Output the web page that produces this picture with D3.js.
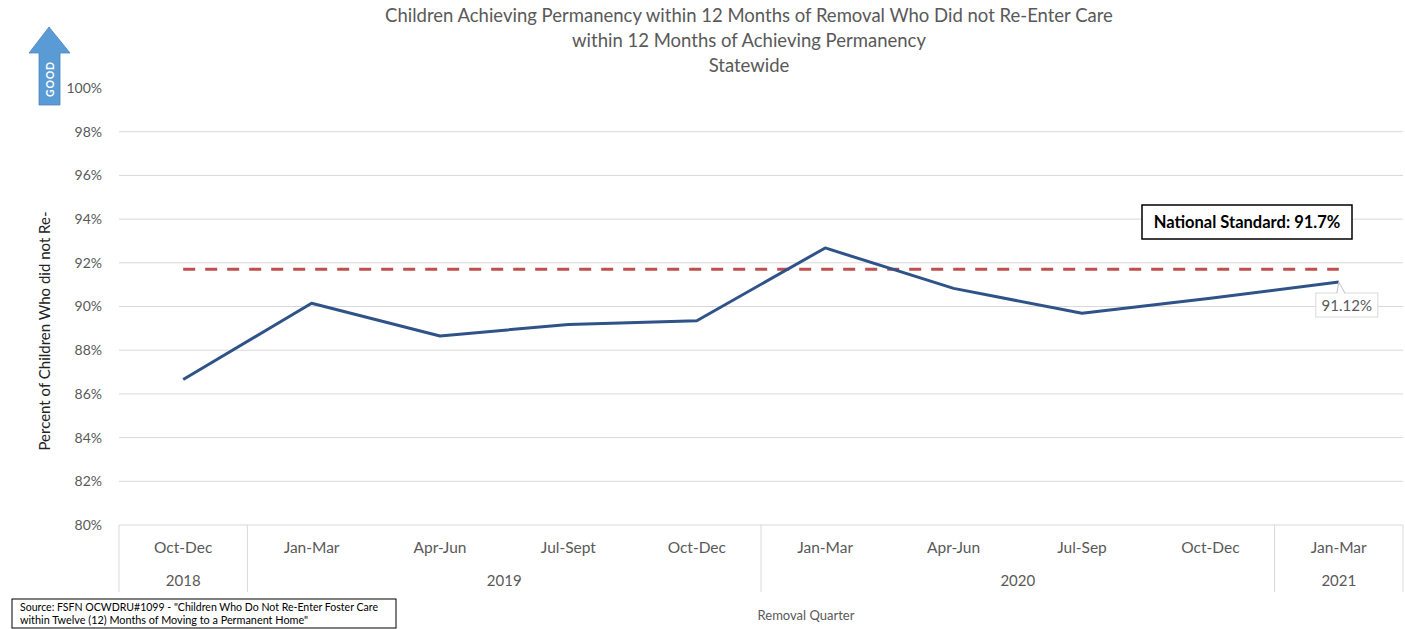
<!DOCTYPE html>
<html><head><meta charset="utf-8">
<script src="https://cdn.jsdelivr.net/npm/d3@7"></script>
<style>body{margin:0;background:#fff;} svg{display:block;font-family:Lato,"Open Sans",sans-serif;}</style>
</head><body>
<svg id="c" width="1405" height="629"></svg>
<script>
const quarters = ["Oct-Dec","Jan-Mar","Apr-Jun","Jul-Sept","Oct-Dec","Jan-Mar","Apr-Jun","Jul-Sep","Oct-Dec","Jan-Mar"];
const years = ["2018","2019","2019","2019","2019","2020","2020","2020","2020","2021"];
const values = [86.66, 90.15, 88.65, 89.18, 89.35, 92.68, 90.83, 89.69, 90.38, 91.12];
const nationalStandard = [91.7, 91.7, 91.7, 91.7, 91.7, 91.7, 91.7, 91.7, 91.7, 91.7];
const yTicks = [80, 82, 84, 86, 88, 90, 92, 94, 96, 98, 100];
const titleLines = ["Children Achieving Permanency within 12 Months of Removal Who Did not Re-Enter Care","within 12 Months of Achieving Permanency","Statewide"];

const svg = d3.select("#c");
const L = 119, R = 1403, T = 88, B = 525;
const idx = d3.range(quarters.length);
const x = d3.scaleBand().domain(idx).range([L, R]);
const y = d3.scaleLinear().domain([80, 100]).range([B, T]);
const cx = i => x(i) + x.bandwidth() / 2;
const grey = "#595959";

// title
svg.append("g").selectAll("text").data(titleLines).join("text")
  .attr("x", 749).attr("y", (d, i) => 22 + i * 25)
  .attr("text-anchor", "middle").attr("font-size", 18.5).attr("fill", grey).text(d => d);

// gridlines
svg.append("g").selectAll("line").data(yTicks.filter(t => t > 80 && t < 100)).join("line")
  .attr("x1", L).attr("x2", R).attr("y1", d => y(d)).attr("y2", d => y(d))
  .attr("stroke", "#d9d9d9").attr("stroke-width", 1);

// y axis labels
const yAxis = d3.axisLeft(y).tickValues(yTicks).tickFormat(d => d + "%").tickSize(0).tickPadding(17);
const ga = svg.append("g").attr("transform", `translate(${L},0)`).call(yAxis);
ga.select(".domain").remove();
ga.selectAll("text").attr("font-size", 14).attr("fill", grey).attr("font-family", "Lato,sans-serif");

// y title
svg.append("text").attr("transform", "translate(50,331) rotate(-90)")
  .attr("text-anchor", "middle").attr("font-size", 15).attr("fill", "#222")
  .text("Percent of Children Who did not Re-");

// x axis bottom line
svg.append("line").attr("x1", L).attr("x2", R).attr("y1", B).attr("y2", B).attr("stroke", "#d9d9d9");
// group separators
const seps = [0];
for (let i = 1; i < years.length; i++) if (years[i] !== years[i - 1]) seps.push(i);
const sepX = seps.map(i => x(i)).concat([R]);
svg.append("g").selectAll("line").data(sepX).join("line")
  .attr("x1", d => d).attr("x2", d => d).attr("y1", B).attr("y2", 592)
  .attr("stroke", "#d9d9d9");
// category labels
svg.append("g").selectAll("text").data(idx).join("text")
  .attr("x", cx).attr("y", 553).attr("text-anchor", "middle")
  .attr("font-size", 15.5).attr("fill", grey).text(i => quarters[i]);
// year labels
const groups = seps.map((s, k) => ({ year: years[s], start: s, end: (k + 1 < seps.length ? seps[k + 1] : years.length) }));
svg.append("g").selectAll("text").data(groups).join("text")
  .attr("x", g => (x(g.start) + (g.end < years.length ? x(g.end) : R)) / 2).attr("y", 586)
  .attr("text-anchor", "middle").attr("font-size", 15).attr("fill", grey).text(g => g.year);

svg.append("text").attr("x", 806).attr("y", 620).attr("text-anchor", "middle")
  .attr("font-size", 13).attr("fill", grey).text("Removal Quarter");

// national standard dashed line
svg.append("path").datum(idx).attr("fill", "none").attr("stroke", "#c0504d").attr("stroke-width", 3)
  .attr("stroke-dasharray", "12,10")
  .attr("d", d3.line().x(cx).y(i => y(nationalStandard[i])));

// data line
svg.append("path").datum(idx).attr("fill", "none").attr("stroke", "#2f5388").attr("stroke-width", 3)
  .attr("stroke-linejoin", "round")
  .attr("d", d3.line().x(cx).y(i => y(values[i])));

// last point label
const li = values.length - 1;
const lx = cx(li), ly = y(values[li]);
svg.append("path").attr("d", `M${lx},${ly} L${lx + 6},${ly + 11} L${lx - 2},${ly + 11} Z`)
  .attr("fill", "#fff").attr("stroke", "#bfbfbf");
svg.append("rect").attr("x", lx - 23).attr("y", ly + 11).attr("width", 62).attr("height", 24)
  .attr("fill", "#fff").attr("stroke", "#d9d9d9");
svg.append("line").attr("x1", lx - 1).attr("x2", lx + 5).attr("y1", ly + 11).attr("y2", ly + 11).attr("stroke", "#fff").attr("stroke-width", 2);
svg.append("text").attr("x", lx + 8).attr("y", ly + 29).attr("text-anchor", "middle")
  .attr("font-size", 15).attr("fill", grey).text(values[li].toFixed(2) + "%");

// national standard box
svg.append("rect").attr("x", 1142).attr("y", 205).attr("width", 210).attr("height", 34)
  .attr("fill", "#fff").attr("stroke", "#000").attr("stroke-width", 1.5);
svg.append("text").attr("x", 1247).attr("y", 228).attr("text-anchor", "middle")
  .attr("font-size", 16.5).attr("font-weight", "bold").attr("fill", "#000")
  .text("National Standard: " + nationalStandard[0] + "%");

// GOOD arrow
svg.append("path").attr("d", "M49,27 L70,53 L60,53 L60,105 L39,105 L39,53 L29,53 Z")
  .attr("fill", "#5b9bd5").attr("stroke", "#4a86c0").attr("stroke-width", 0.8);
svg.append("text").attr("transform", "translate(54,79) rotate(-90)").attr("text-anchor", "middle")
  .attr("font-size", 10.5).attr("font-weight", "bold").attr("fill", "#fff").attr("letter-spacing", 0.8).text("GOOD");

// source box
svg.append("rect").attr("x", 12).attr("y", 599).attr("width", 384).attr("height", 29)
  .attr("fill", "#fff").attr("stroke", "#000").attr("stroke-width", 1);
svg.append("text").attr("x", 20).attr("y", 611).attr("font-size", 10.8).attr("fill", "#000")
  .attr("textLength", 358).attr("lengthAdjust", "spacingAndGlyphs")
  .text("Source: FSFN OCWDRU#1099 - \"Children Who Do Not Re-Enter Foster Care");
svg.append("text").attr("x", 20).attr("y", 624).attr("font-size", 10.8).attr("fill", "#000")
  .attr("textLength", 288).attr("lengthAdjust", "spacingAndGlyphs")
  .text("within Twelve (12) Months of Moving to a Permanent Home\"");
</script>
</body></html>
